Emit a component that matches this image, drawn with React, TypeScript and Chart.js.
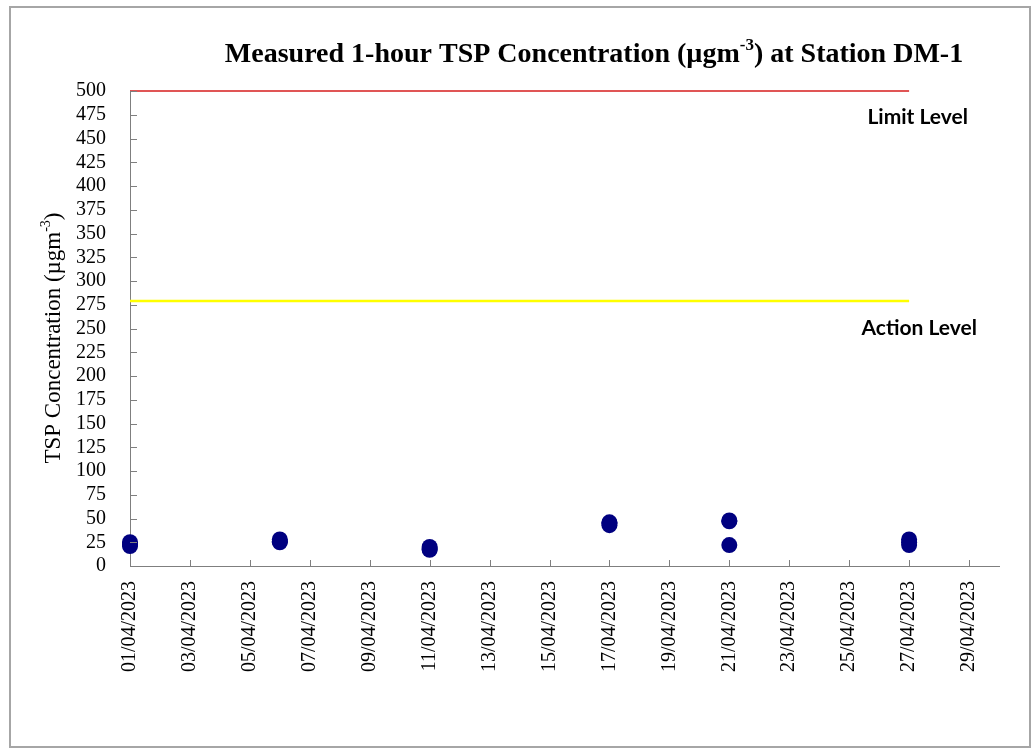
import React, { useEffect, useRef } from "react";
import { Chart, registerables } from "chart.js";

Chart.register(...registerables);

// ---------- data ----------
const tickDates = [
  "01/04/2023", "03/04/2023", "05/04/2023", "07/04/2023", "09/04/2023",
  "11/04/2023", "13/04/2023", "15/04/2023", "17/04/2023", "19/04/2023",
  "21/04/2023", "23/04/2023", "25/04/2023", "27/04/2023", "29/04/2023",
];
const axisStartDate = "01/04/2023";
const axisEndDate = "30/04/2023";

const measurementDates = [
  "01/04/2023", "01/04/2023", "01/04/2023",
  "06/04/2023", "06/04/2023", "06/04/2023",
  "11/04/2023", "11/04/2023", "11/04/2023",
  "17/04/2023", "17/04/2023", "17/04/2023",
  "21/04/2023", "21/04/2023", "21/04/2023",
  "27/04/2023", "27/04/2023", "27/04/2023",
];
const tspValues = [
  21, 25, 23,
  25, 28, 26,
  17, 20, 18,
  43, 46, 45,
  22, 47, 48,
  22, 28, 25,
];

const levelLineDates = ["01/04/2023", "27/04/2023"];
const limitLevel = 500;
const actionLevel = 279;

const yMin = 0;
const yMax = 500;
const yStep = 25;

const titleParts = [
  { text: "Measured 1-hour TSP Concentration (\u00b5gm", sup: false },
  { text: "-3", sup: true },
  { text: ") at Station DM-1", sup: false },
];
const yTitleParts = [
  { text: "TSP Concentration (\u00b5gm", sup: false },
  { text: "-3", sup: true },
  { text: ")", sup: false },
];
const limitLabel = "Limit Level";
const actionLabel = "Action Level";

// ---------- helpers ----------
const dayOf = (d: string) => parseInt(d.slice(0, 2), 10);
const dateLabel = (day: number) =>
  tickDates.find((d) => dayOf(d) === day) ?? "";

const SERIF = "'Liberation Serif', 'Times New Roman', serif";
const SANS = "Lato, 'Open Sans', sans-serif";

function drawParts(
  ctx: CanvasRenderingContext2D,
  parts: { text: string; sup: boolean }[],
  size: number,
  weight: string,
  family: string
) {
  const supSize = Math.round(size * 0.6);
  let w = 0;
  for (const p of parts) {
    ctx.font = `${weight} ${p.sup ? supSize : size}px ${family}`;
    w += ctx.measureText(p.text).width;
  }
  return {
    width: w,
    draw: (x0: number, y0: number) => {
      let x = x0;
      for (const p of parts) {
        ctx.font = `${weight} ${p.sup ? supSize : size}px ${family}`;
        ctx.fillText(p.text, x, p.sup ? y0 - size * 0.42 : y0);
        x += ctx.measureText(p.text).width;
      }
    },
  };
}

const decorPlugin = {
  id: "decor",
  afterDraw(chart: any) {
    const { ctx, chartArea, scales } = chart;
    const xs = scales.x;
    const ys = scales.y;
    ctx.save();

    // inside tick marks
    ctx.strokeStyle = "#7f7f7f";
    ctx.lineWidth = 1;
    ctx.beginPath();
    for (const t of ys.ticks) {
      const y = Math.round(ys.getPixelForValue(t.value)) + 0.5;
      ctx.moveTo(chartArea.left, y);
      ctx.lineTo(chartArea.left + 7, y);
    }
    for (const t of xs.ticks) {
      const x = Math.round(xs.getPixelForValue(t.value)) + 0.5;
      ctx.moveTo(x, chartArea.bottom);
      ctx.lineTo(x, chartArea.bottom - 6);
    }
    ctx.stroke();

    ctx.fillStyle = "#000";
    ctx.textBaseline = "alphabetic";
    ctx.textAlign = "left";

    // title
    const t = drawParts(ctx, titleParts, 28, "bold", SERIF);
    t.draw(594 - t.width / 2, 62);

    // y-axis title
    const yt = drawParts(ctx, yTitleParts, 23, "normal", SERIF);
    ctx.save();
    ctx.translate(60, 338);
    ctx.rotate(-Math.PI / 2);
    yt.draw(-yt.width / 2, 0);
    ctx.restore();

    // level labels
    ctx.font = `bold 21px ${SANS}`;
    ctx.textAlign = "right";
    ctx.textBaseline = "middle";
    ctx.fillText(limitLabel, chartArea.right - 31, ys.getPixelForValue(limitLevel) + 26);
    ctx.fillText(actionLabel, chartArea.right - 22, ys.getPixelForValue(actionLevel) + 27);

    ctx.restore();
  },
};

export default function App() {
  const ref = useRef<HTMLCanvasElement>(null);

  useEffect(() => {
    document.body.style.margin = "0";
    const canvas = ref.current!;
    const chart = new Chart(canvas, {
      type: "scatter",
      data: {
        datasets: [
          {
            label: "TSP",
            data: measurementDates.map((d, i) => ({ x: dayOf(d), y: tspValues[i] })),
            backgroundColor: "#000080",
            borderColor: "#000080",
            borderWidth: 0,
            pointRadius: 8,
            pointStyle: "circle",
            clip: false,
            order: 0,
          },
          {
            label: "Limit Level",
            data: levelLineDates.map((d) => ({ x: dayOf(d), y: limitLevel })),
            showLine: true,
            borderColor: "#e05555",
            backgroundColor: "#e05555",
            borderWidth: 2,
            pointRadius: 0,
            clip: false,
            order: 1,
          },
          {
            label: "Action Level",
            data: levelLineDates.map((d) => ({ x: dayOf(d), y: actionLevel })),
            showLine: true,
            borderColor: "#ffff00",
            backgroundColor: "#ffff00",
            borderWidth: 2.5,
            pointRadius: 0,
            clip: false,
            order: 2,
          },
        ] as any,
      },
      options: {
        responsive: false,
        animation: false,
        devicePixelRatio: 1,
        layout: { padding: { left: 0, right: 32, top: 91, bottom: 0 } },
        plugins: {
          legend: { display: false },
          tooltip: { enabled: false },
          title: { display: false },
        },
        scales: {
          x: {
            type: "linear",
            min: dayOf(axisStartDate),
            max: dayOf(axisEndDate),
            grid: { display: false, drawTicks: false },
            border: { display: true, color: "#7f7f7f", width: 1 },
            afterBuildTicks: (scale: any) => {
              scale.ticks = tickDates.map((d) => ({ value: dayOf(d) }));
            },
            afterFit: (scale: any) => {
              scale.height = 751 - 566;
            },
            ticks: {
              autoSkip: false,
              minRotation: 90,
              maxRotation: 90,
              padding: 15,
              color: "#000",
              font: { family: SERIF, size: 20 },
              callback: (v: any) => dateLabel(Number(v)),
            },
          },
          y: {
            min: yMin,
            max: yMax,
            grid: { display: false, drawTicks: false },
            border: { display: true, color: "#7f7f7f", width: 1 },
            afterFit: (scale: any) => {
              scale.width = 130;
            },
            ticks: {
              stepSize: yStep,
              autoSkip: false,
              padding: 24,
              color: "#000",
              font: { family: SERIF, size: 20 },
            },
          },
        },
      } as any,
      plugins: [decorPlugin],
    });
    return () => chart.destroy();
  }, []);

  return (
    <div style={{ position: "relative", width: 1031, height: 751, background: "#fff" }}>
      <div
        style={{
          position: "absolute",
          left: 9,
          top: 6,
          width: 1022,
          height: 742,
          boxSizing: "border-box",
          border: "2px solid #a6a6a6",
        }}
      />
      <canvas
        ref={ref}
        width={1031}
        height={751}
        style={{ position: "absolute", left: 0, top: 0, width: 1031, height: 751 }}
      />
    </div>
  );
}
